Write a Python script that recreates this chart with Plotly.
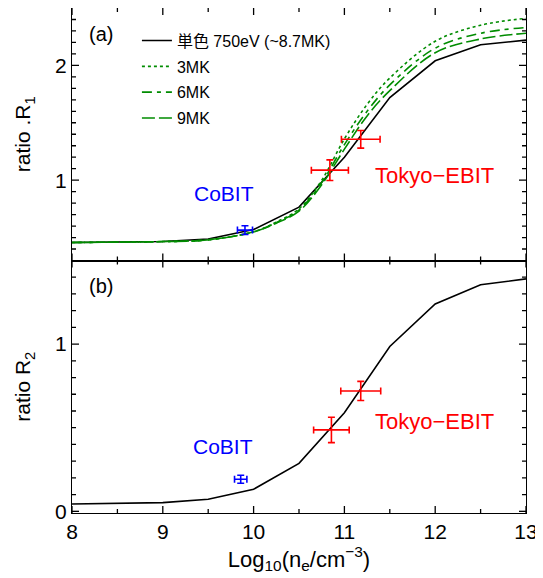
import plotly.graph_objects as go
from plotly.subplots import make_subplots

# ---------------- data ----------------
x_coarse = [8, 8.5, 9, 9.5, 10, 10.5, 11, 11.5, 12, 12.5, 13]
r1_mono = [0.457, 0.46, 0.465, 0.487, 0.57, 0.765, 1.20, 1.72, 2.04, 2.18, 2.22]

x_fine = [8, 8.5, 9, 9.5, 10, 10.25, 10.5, 10.75, 11, 11.25, 11.5, 12, 12.5, 13]
r1_3mk = [0.457, 0.46, 0.465, 0.48, 0.55, 0.635, 0.75, 1.00, 1.36, 1.66, 1.89, 2.21, 2.35, 2.41]
r1_6mk = [0.457, 0.46, 0.465, 0.48, 0.55, 0.63, 0.74, 0.98, 1.31, 1.60, 1.83, 2.15, 2.28, 2.33]
r1_9mk = [0.457, 0.46, 0.465, 0.48, 0.55, 0.625, 0.73, 0.96, 1.27, 1.56, 1.78, 2.11, 2.23, 2.28]

r2_mono = [0.044, 0.047, 0.052, 0.072, 0.132, 0.287, 0.59, 0.986, 1.24, 1.355, 1.39]

# measurements
cobit_a_x, cobit_a_y, cobit_a_xe, cobit_a_ye = [9.905], [0.565], [0.083], [0.038]
tokyo_a_x = [10.84, 11.18]
tokyo_a_y = [1.087, 1.356]
tokyo_a_xe = [0.204, 0.213]
tokyo_a_ye = [0.09, 0.077]

cobit_b_x, cobit_b_y, cobit_b_xe, cobit_b_ye = [9.858], [0.192], [0.068], [0.024]
tokyo_b_x = [10.857, 11.18]
tokyo_b_y = [0.487, 0.72]
tokyo_b_xe = [0.196, 0.22]
tokyo_b_ye = [0.076, 0.057]

legend_names = ["単色 750eV (~8.7MK)", "3MK", "6MK", "9MK"]

# axis ranges and tick values
x_range = [8, 13]
ya_range = [0.3, 2.5]
yb_range = [-0.01, 1.5]
x_major = [8, 9, 10, 11, 12, 13]
x_minor = [8.5, 9.5, 10.5, 11.5, 12.5]
ya_major = [1, 2]
ya_minor = [round(0.1 * i, 2) for i in range(4, 25) if i % 10 != 0]
yb_major = [0, 1]
yb_minor = [round(0.1 * i, 2) for i in range(1, 15) if i % 10 != 0]

FONT = "Liberation Sans, Arial, Noto Sans CJK JP, sans-serif"
GREEN = "rgb(0,140,0)"

W, H = 535, 570
ML, MR, MT, MB = 64, 17, 0, 65
PW = W - ML - MR
PH = (H - MT - MB) / 2.0

fig = make_subplots(rows=2, cols=1, shared_xaxes=True, vertical_spacing=0)

fig.add_trace(go.Scatter(x=x_coarse, y=r1_mono, mode="lines", name=legend_names[0],
                         legendgroup="g0", line=dict(color="black", width=1.6)), row=1, col=1)
fig.add_trace(go.Scatter(x=x_fine, y=r1_3mk, mode="lines", name=legend_names[1], legendgroup="g1",
                         line=dict(color=GREEN, width=1.6, dash="3px,3px", shape="spline")), row=1, col=1)
fig.add_trace(go.Scatter(x=x_fine, y=r1_6mk, mode="lines", name=legend_names[2], legendgroup="g2",
                         line=dict(color=GREEN, width=1.6, dash="10px,5px,4px,5px", shape="spline")), row=1, col=1)
fig.add_trace(go.Scatter(x=x_fine, y=r1_9mk, mode="lines", name=legend_names[3], legendgroup="g3",
                         line=dict(color=GREEN, width=1.6, dash="13px,4px", shape="spline")), row=1, col=1)

def errpts(x, y, xe, ye, color, row):
    fig.add_trace(go.Scatter(x=x, y=y, mode="markers", showlegend=False,
                             marker=dict(size=1, color=color),
                             error_x=dict(type="data", array=xe, color=color, thickness=1.6, width=3.5),
                             error_y=dict(type="data", array=ye, color=color, thickness=1.6, width=3.5)),
                  row=row, col=1)

errpts(cobit_a_x, cobit_a_y, cobit_a_xe, cobit_a_ye, "blue", 1)
errpts(tokyo_a_x, tokyo_a_y, tokyo_a_xe, tokyo_a_ye, "red", 1)

fig.add_trace(go.Scatter(x=x_coarse, y=r2_mono, mode="lines", showlegend=False,
                         line=dict(color="black", width=1.6)), row=2, col=1)
errpts(cobit_b_x, cobit_b_y, cobit_b_xe, cobit_b_ye, "blue", 2)
errpts(tokyo_b_x, tokyo_b_y, tokyo_b_xe, tokyo_b_ye, "red", 2)

# ---- inside tick marks on all four sides, drawn as line traces ----
TL_MAJ, TL_MIN = 7, 4

def tick_trace(yr, ymaj, ymin, row):
    dx = (x_range[1] - x_range[0]) / PW   # data units per px
    dy = (yr[1] - yr[0]) / PH
    xs, ys = [], []
    for vals, L in ((x_major, TL_MAJ), (x_minor, TL_MIN)):
        for v in vals:
            xs += [v, v, None, v, v, None]
            ys += [yr[0], yr[0] + L * dy, None, yr[1], yr[1] - L * dy, None]
    for vals, L in ((ymaj, TL_MAJ), (ymin, TL_MIN)):
        for v in vals:
            xs += [x_range[0], x_range[0] + L * dx, None, x_range[1], x_range[1] - L * dx, None]
            ys += [v, v, None, v, v, None]
    fig.add_trace(go.Scatter(x=xs, y=ys, mode="lines", showlegend=False, hoverinfo="skip",
                             line=dict(color="black", width=1.3)), row=row, col=1)

tick_trace(ya_range, ya_major, ya_minor, 1)
tick_trace(yb_range, yb_major, yb_minor, 2)

TICKFONT = dict(family=FONT, size=21, color="black")

fig.update_xaxes(showline=True, linecolor="black", linewidth=1.3, mirror=True,
                 ticks="", showgrid=False, zeroline=False, tickfont=TICKFONT,
                 range=x_range, tickmode="array", tickvals=x_major, ticklabeloverflow="allow")
fig.update_yaxes(showline=True, linecolor="black", linewidth=1.3, mirror=True,
                 ticks="", showgrid=False, zeroline=False, tickfont=TICKFONT, tickmode="array")
fig.update_yaxes(range=ya_range, tickvals=ya_major, row=1, col=1,
                 title=dict(text="ratio .R<sub>1</sub>", font=dict(family=FONT, size=21, color="black"), standoff=18))
fig.update_yaxes(range=yb_range, tickvals=yb_major, row=2, col=1,
                 title=dict(text="ratio R<sub>2</sub>", font=dict(family=FONT, size=21, color="black"), standoff=18))
fig.update_xaxes(title=dict(text="Log<sub>10</sub>(n<sub>e</sub>/cm<sup>−3</sup>)",
                            font=dict(family=FONT, size=22, color="black"), standoff=7), row=2, col=1)

ann = []
def label(text, x, y, color, size, xref, yref):
    ann.append(dict(text=text, x=x, y=y, xref=xref, yref=yref, showarrow=False,
                    font=dict(family=FONT, size=size, color=color), xanchor="center", yanchor="middle"))

label("(a)", 8.32, 2.27, "black", 20, "x", "y")
label("CoBIT", 9.67, 0.88, "blue", 21, "x", "y")
label("Tokyo−EBIT", 11.99, 1.04, "red", 22, "x", "y")
label("(b)", 8.32, 1.345, "black", 20, "x2", "y2")
label("CoBIT", 9.66, 0.387, "blue", 21, "x2", "y2")
label("Tokyo−EBIT", 11.99, 0.54, "red", 22, "x2", "y2")

fig.update_layout(
    width=W, height=H,
    margin=dict(l=ML, r=MR, t=MT, b=MB),
    paper_bgcolor="white", plot_bgcolor="white",
    annotations=ann,
    showlegend=True,
    legend=dict(x=0.143, y=0.969, xanchor="left", yanchor="top", bgcolor="rgba(0,0,0,0)",
                font=dict(family=FONT, size=16, color="black"), tracegroupgap=2,
                traceorder="grouped"),
    font=dict(family=FONT),
)

fig.write_html("out.html")
